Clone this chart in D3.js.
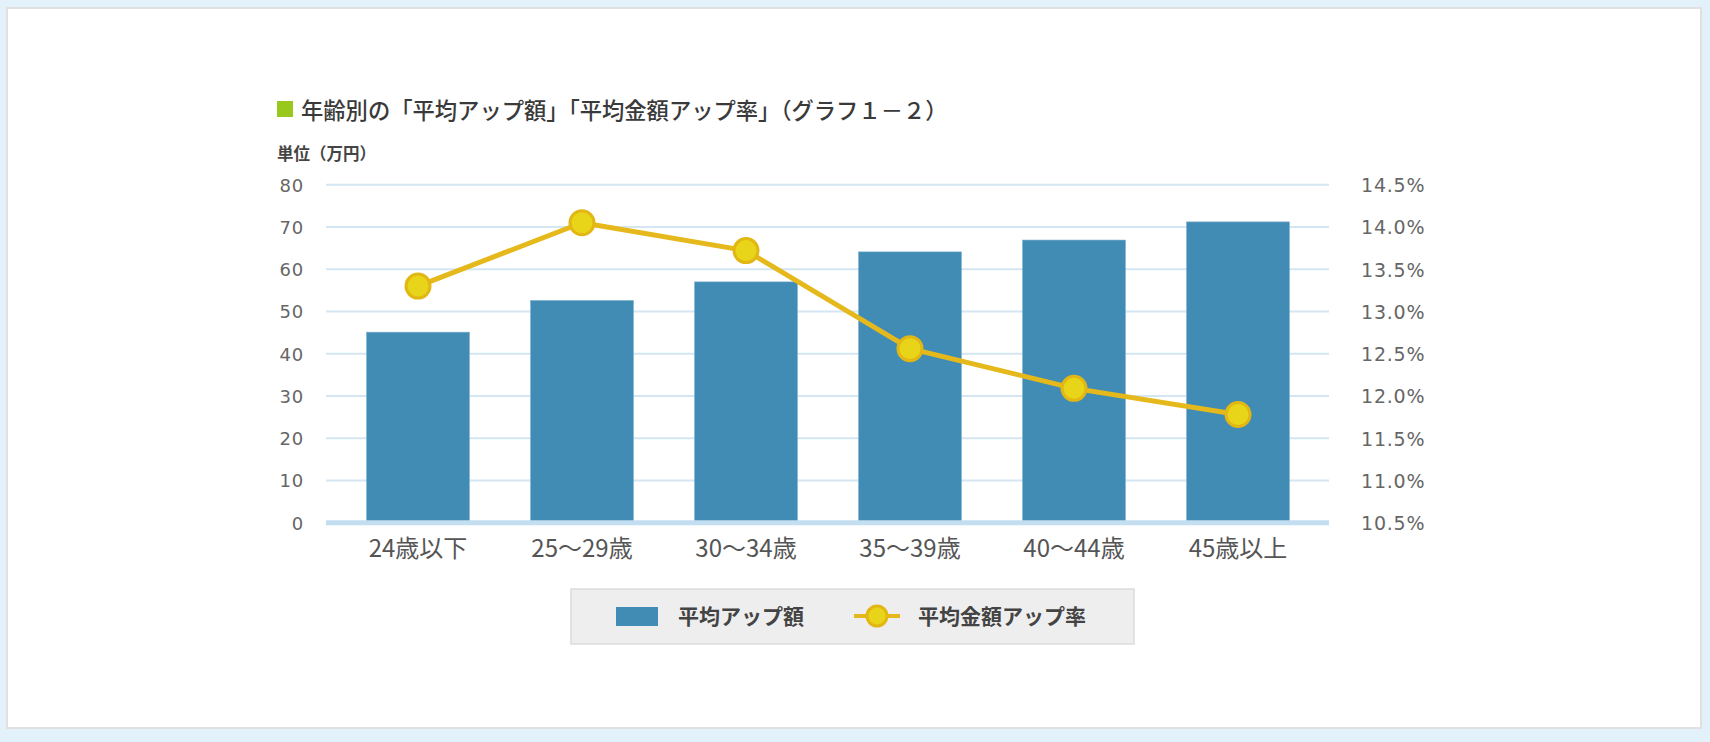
<!DOCTYPE html>
<html><head><meta charset="utf-8">
<script src="https://cdn.jsdelivr.net/npm/d3@7"></script>
<style>
html,body{margin:0;padding:0;background:#e3f1fb;}
svg{display:block;}
.cjk{font-family:"Noto Sans CJK JP","Noto Sans",sans-serif;}
.num{font-family:"DejaVu Sans",sans-serif;}
</style></head>
<body>
<svg id="chart" width="1710" height="742"></svg>
<script>
const categories = ["24歳以下","25〜29歳","30〜34歳","35〜39歳","40〜44歳","45歳以上"];
const amountValues = [45.1, 52.6, 57.0, 64.1, 66.9, 71.2];
const rateValues = [13.30, 14.05, 13.72, 12.56, 12.09, 11.78];
const leftTicks = [0,10,20,30,40,50,60,70,80];
const rightTicks = [10.5,11.0,11.5,12.0,12.5,13.0,13.5,14.0,14.5];
const titleText = "年齢別の「平均アップ額」「平均金額アップ率」（グラフ１－２）";
const unitText = "単位（万円）";
const seriesNames = ["平均アップ額","平均金額アップ率"];

const svg = d3.select("#chart");
// panel
svg.append("rect").attr("x",7).attr("y",8).attr("width",1694).attr("height",720)
  .attr("fill","#fff").attr("stroke","#e0e0e0").attr("stroke-width",2);

const x0 = 326, x1 = 1329, yTop = 184.7, yBot = 522.7;
const x = d3.scaleBand().domain(categories).range([336,1320]).paddingInner(0.372).paddingOuter(0.186);
const yL = d3.scaleLinear().domain([0,80]).range([yBot,yTop]);
const yR = d3.scaleLinear().domain([10.5,14.5]).range([yBot,yTop]);

// title
svg.append("rect").attr("x",277).attr("y",101).attr("width",16).attr("height",16).attr("fill","#97c81b");
svg.append("text").attr("class","cjk").attr("x",301).attr("y",118.5).attr("font-size",22.3).attr("font-weight",500)
  .attr("fill","#3a3a3a").text(titleText);
svg.append("text").attr("class","cjk").attr("x",277).attr("y",160).attr("font-size",16.5).attr("font-weight","bold")
  .attr("fill","#444").text(unitText);

// gridlines
svg.append("g").selectAll("line").data(leftTicks.filter(d=>d>0)).join("line")
  .attr("x1",x0).attr("x2",x1).attr("y1",d=>yL(d)).attr("y2",d=>yL(d))
  .attr("stroke","#d4e6f2").attr("stroke-width",2);

// left axis
const gl = svg.append("g").attr("transform",`translate(${x0-22},0)`)
  .call(d3.axisLeft(yL).tickValues(leftTicks).tickSize(0).tickPadding(0));
gl.select(".domain").remove();
gl.selectAll("text").attr("class","num").attr("font-size",18).attr("fill","#666").attr("letter-spacing",0.8).attr("dy","0.36em");

// right axis
const gr = svg.append("g").attr("transform",`translate(${x1+32},0)`)
  .call(d3.axisRight(yR).tickValues(rightTicks).tickSize(0).tickPadding(0).tickFormat(d=>d3.format(".1f")(d)+"%"));
gr.select(".domain").remove();
gr.selectAll("text").attr("class","num").attr("font-size",19).attr("fill","#666").attr("letter-spacing",0.8).attr("dy","0.36em");

// bars
svg.append("g").selectAll("rect").data(categories).join("rect")
  .attr("x",d=>x(d)).attr("width",x.bandwidth())
  .attr("y",(d,i)=>yL(amountValues[i])).attr("height",(d,i)=>yL(0)-yL(amountValues[i]))
  .attr("fill","#418cb5").attr("stroke","#7fb2d0").attr("stroke-width",0.6);

// baseline
svg.append("line").attr("x1",x0).attr("x2",x1).attr("y1",yL(0)).attr("y2",yL(0))
  .attr("stroke","#c3def0").attr("stroke-width",5);

// x axis labels
const gx = svg.append("g").attr("transform",`translate(0,${yBot})`)
  .call(d3.axisBottom(x).tickSize(0).tickPadding(0));
gx.select(".domain").remove();
gx.selectAll("text").attr("class","cjk").attr("font-size",24).attr("fill","#555").attr("dy","1.45em");

// line
const line = d3.line().x((d,i)=>x(categories[i])+x.bandwidth()/2).y(d=>yR(d));
svg.append("path").datum(rateValues).attr("d",line).attr("fill","none")
  .attr("stroke","#e5b91b").attr("stroke-width",5).attr("stroke-linejoin","round");
svg.append("g").selectAll("circle").data(rateValues).join("circle")
  .attr("cx",(d,i)=>x(categories[i])+x.bandwidth()/2).attr("cy",d=>yR(d)).attr("r",12)
  .attr("fill","#e8d418").attr("stroke","#e2b714").attr("stroke-width",3);

// legend
const lg = svg.append("g");
lg.append("rect").attr("x",571).attr("y",589).attr("width",563).attr("height",55)
  .attr("fill","#eeeeee").attr("stroke","#dcdcdc").attr("stroke-width",1.5);
lg.append("rect").attr("x",616).attr("y",607).attr("width",42).attr("height",19).attr("fill","#418cb5");
lg.append("text").attr("class","cjk").attr("x",678).attr("y",624).attr("font-size",21).attr("font-weight","bold")
  .attr("fill","#444").text(seriesNames[0]);
lg.append("line").attr("x1",854).attr("x2",900).attr("y1",616).attr("y2",616).attr("stroke","#e5b91b").attr("stroke-width",4);
lg.append("circle").attr("cx",877).attr("cy",616).attr("r",10).attr("fill","#e8d418").attr("stroke","#e2b714").attr("stroke-width",3);
lg.append("text").attr("class","cjk").attr("x",918).attr("y",624).attr("font-size",21).attr("font-weight","bold")
  .attr("fill","#444").text(seriesNames[1]);
</script>
</body></html>
